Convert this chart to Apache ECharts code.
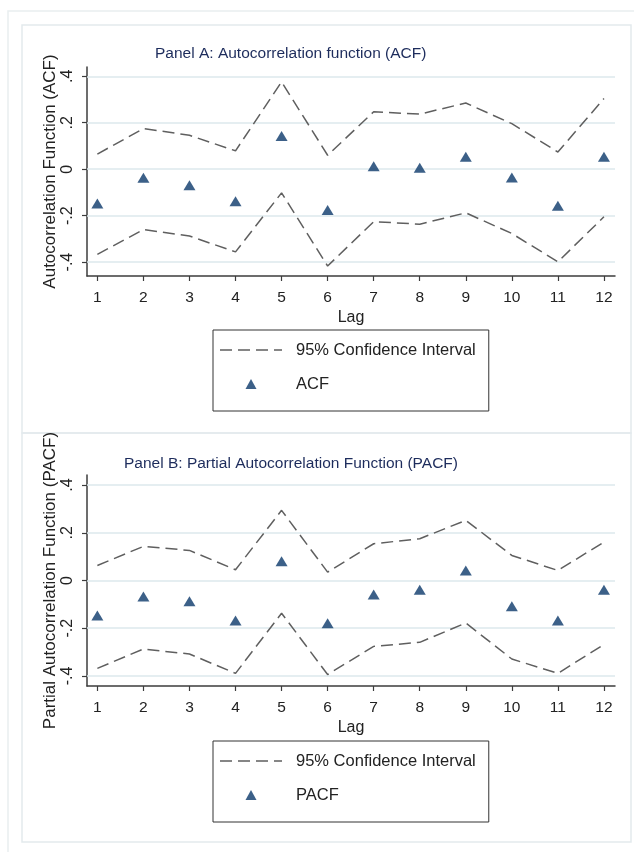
<!DOCTYPE html>
<html>
<head>
<meta charset="utf-8">
<script src="https://cdn.jsdelivr.net/npm/echarts@6/dist/echarts.min.js"></script>
<style>
html,body{margin:0;padding:0;background:#fff;}
#chart{width:634px;height:852px;}
</style>
</head>
<body>
<div id="chart"></div>
<script>
// ---- data ----
const lags = [1,2,3,4,5,6,7,8,9,10,11,12];
const acf      = [-0.148,-0.037,-0.069,-0.138, 0.143,-0.176, 0.013, 0.006, 0.053,-0.036,-0.158, 0.053];
const acfUpper = [ 0.065, 0.175, 0.146, 0.079, 0.376, 0.060, 0.247, 0.237, 0.285, 0.196, 0.074, 0.304];
const acfLower = [-0.367,-0.260,-0.288,-0.356,-0.102,-0.417,-0.226,-0.237,-0.188,-0.277,-0.399,-0.205];
const pacf      = [-0.147,-0.067,-0.087,-0.168, 0.081,-0.179,-0.059,-0.039, 0.042,-0.108,-0.168,-0.039];
const pacfUpper = [ 0.063, 0.143, 0.126, 0.045, 0.294, 0.035, 0.154, 0.175, 0.252, 0.105, 0.042, 0.161];
const pacfLower = [-0.368,-0.287,-0.308,-0.389,-0.137,-0.394,-0.276,-0.259,-0.178,-0.329,-0.389,-0.268];
const yTicks = [-0.4,-0.2,0,0.2,0.4];
const yTickLabels = ['-.4','-.2','0','.2','.4'];
const ciName = '95% Confidence Interval';
const titles = ['Panel A: Autocorrelation function (ACF)', 'Panel B: Partial Autocorrelation Function (PACF)'];
const yNames = ['Autocorrelation Function (ACF)', 'Partial Autocorrelation Function (PACF)'];
const xName = 'Lag';

// ---- chart ----
const FONT = '"Liberation Sans", Arial, sans-serif';
const chart = echarts.init(document.getElementById('chart'), null, {renderer:'canvas'});
const pts = arr => lags.map((l,i)=>[l, arr[i]]);
const labelOf = v => {
  const i = yTicks.findIndex(t => Math.abs(t - v) < 1e-9);
  return i >= 0 ? yTickLabels[i] : '';
};
const gridLineCol = '#dde8ec';
const axisCol = '#3c3c3c';
const ciCol = '#5f5f5f';
const ptCol = '#0b386a';
const dashIcon = 'path://M0,0H12V1.5H0Z M18,0H30V1.5H18Z M36,0H48V1.5H36Z M54,0H62V1.5H54Z';
const triIcon = 'path://M5.5,0L11,10L0,10Z';

function xAxisDef(gi){
  return {
    type:'value', gridIndex:gi, min:0.775, max:12.24,
    name:xName, nameLocation:'middle', nameGap:34, nameMoveOverlap:false,
    nameTextStyle:{fontFamily:FONT, fontSize:16, color:'#222'},
    axisLine:{onZero:false, lineStyle:{color:axisCol, width:1.5}},
    axisTick:{show:true, length:5, customValues:lags, lineStyle:{color:axisCol, width:1.2}},
    axisLabel:{customValues:lags, margin:14, fontFamily:FONT, fontSize:15.5, color:'#222'},
    splitLine:{show:false}
  };
}
function yAxisDef(gi, mn, mx, nm){
  return {
    type:'value', gridIndex:gi, min:mn, max:mx,
    name:nm, nameLocation:'middle', nameGap:28, nameMoveOverlap:false,
    nameTextStyle:{fontFamily:FONT, fontSize:17, color:'#222'},
    axisLine:{show:true, onZero:false, lineStyle:{color:axisCol, width:1.5}},
    axisTick:{show:true, length:5, customValues:yTicks, lineStyle:{color:axisCol, width:1.2}},
    axisLabel:{customValues:yTicks, rotate:90, margin:11, fontFamily:FONT, fontSize:16, color:'#222',
      formatter: v => labelOf(v)},
    splitLine:{show:false}
  };
}
function ciSeries(gi, arr){
  return {
    type:'line', name:ciName, xAxisIndex:gi, yAxisIndex:gi, data:pts(arr),
    symbol:'none', silent:true, z:3,
    lineStyle:{color:ciCol, width:1.5, type:[12,6]},
    itemStyle:{color:ciCol}
  };
}
function ptSeries(gi, nm, arr){
  return {
    type:'scatter', name:nm, xAxisIndex:gi, yAxisIndex:gi, data:pts(arr),
    symbol:'triangle', symbolSize:[12,10], z:4,
    itemStyle:{color:ptCol}
  };
}
function gridSeries(gi){
  return {
    type:'line', xAxisIndex:gi, yAxisIndex:gi, data:[], silent:true, z:1,
    markLine:{silent:true, z:1, symbol:'none', label:{show:false},
      lineStyle:{color:gridLineCol, width:1.5, type:'solid'},
      data: yTicks.map(v => ({yAxis:v}))}
  };
}
function legendDef(top, nm){
  return {
    left:213, top:top, orient:'vertical', selectedMode:false,
    data:[{name:ciName, icon:dashIcon, itemStyle:{color:ciCol}}, {name:nm, icon:triIcon, itemStyle:{color:ptCol}}],
    itemWidth:62, itemHeight:10, itemGap:14, symbolKeepAspect:true,
    padding:[10,13,17,7],
    borderColor:'#333', borderWidth:1, borderRadius:0,
    textStyle:{fontFamily:FONT, fontSize:16.5, color:'#222', lineHeight:20, padding:[0,0,0,9]}
  };
}

const option = {
  backgroundColor:'#fff',
  animation:false,
  title:[
    {text:titles[0], left:150, top:41, textStyle:{fontFamily:FONT, fontSize:15.5, fontWeight:'normal', color:'#1d2c5c'}},
    {text:titles[1], left:119, top:451, textStyle:{fontFamily:FONT, fontSize:15.5, fontWeight:'normal', color:'#1d2c5c'}}
  ],
  graphic:[
    {type:'rect', shape:{x:8, y:11, width:640, height:860}, style:{fill:'none', stroke:'#e9eef0', lineWidth:1.5}, z:-10},
    {type:'rect', shape:{x:22, y:25, width:609, height:408}, style:{fill:'none', stroke:'#e3eaed', lineWidth:1.5}, z:-10},
    {type:'rect', shape:{x:22, y:433, width:609, height:409}, style:{fill:'none', stroke:'#e3eaed', lineWidth:1.5}, z:-10}
  ],
  grid:[
    {left:87, top:67, width:528, height:209},
    {left:87, top:475, width:528, height:211}
  ],
  xAxis:[xAxisDef(0), xAxisDef(1)],
  yAxis:[yAxisDef(0,-0.46,0.44,yNames[0]), yAxisDef(1,-0.442,0.442,yNames[1])],
  legend:[legendDef(330,'ACF'), legendDef(741,'PACF')],
  series:[
    gridSeries(0), gridSeries(1),
    ciSeries(0, acfUpper), ciSeries(0, acfLower), ptSeries(0,'ACF',acf),
    ciSeries(1, pacfUpper), ciSeries(1, pacfLower), ptSeries(1,'PACF',pacf)
  ]
};
chart.setOption(option);
</script>
</body>
</html>
